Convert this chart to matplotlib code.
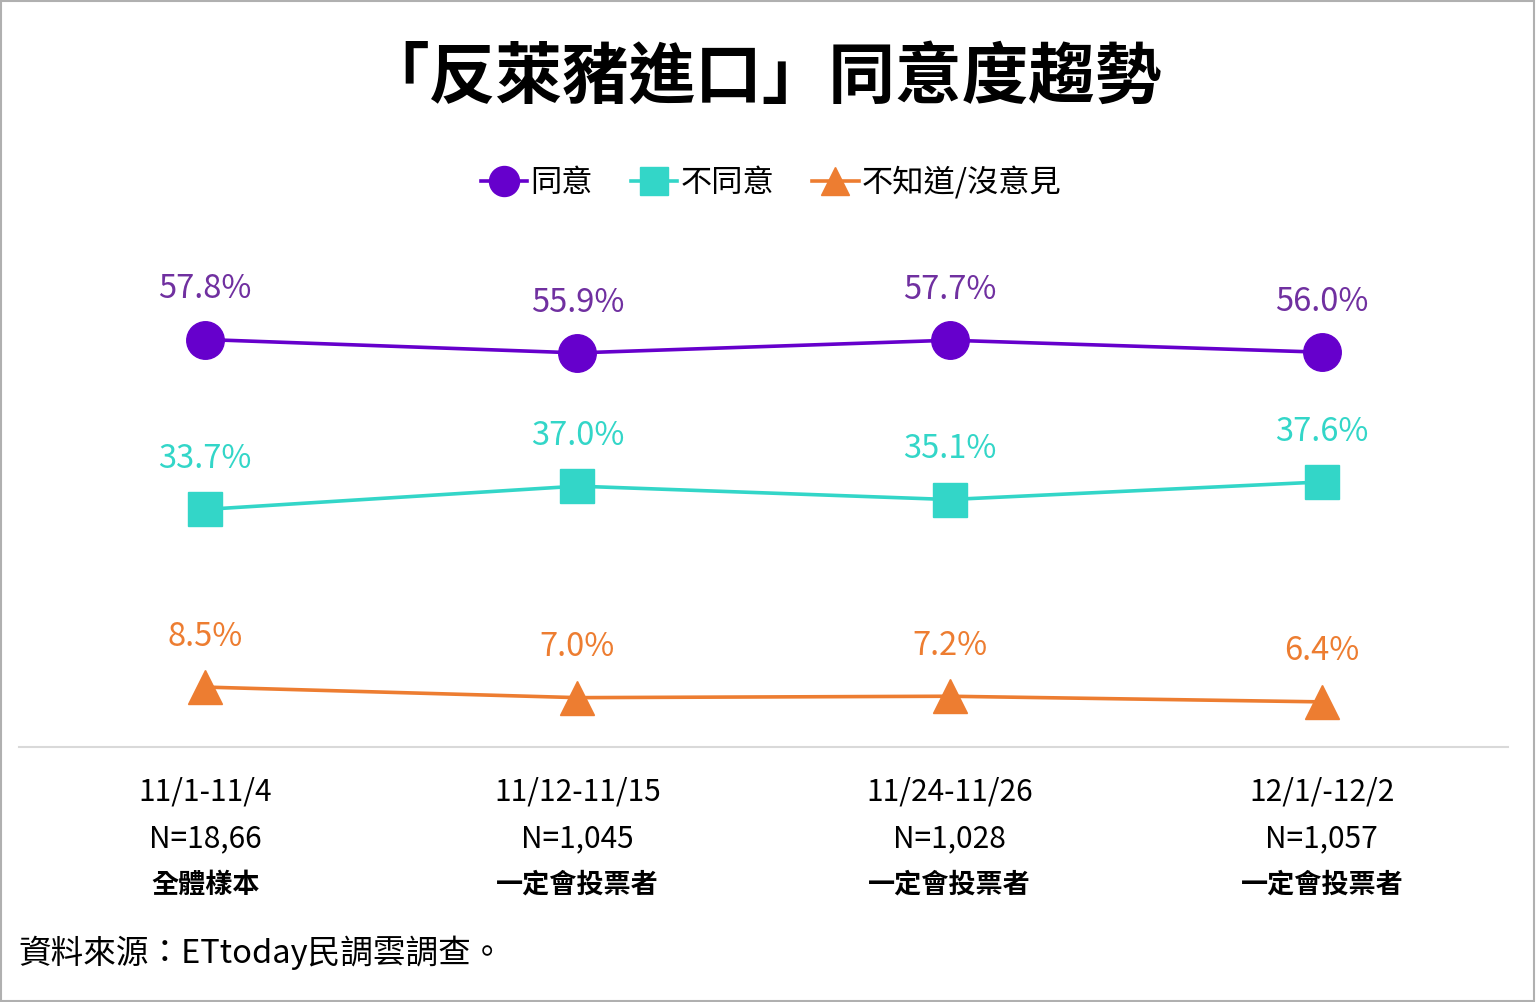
import matplotlib
matplotlib.use("Agg")
import matplotlib.pyplot as plt
from matplotlib.patches import Rectangle

plt.rcParams['font.family'] = ['Noto Sans CJK TC', 'DejaVu Sans']

title = "「反萊豬進口」同意度趨勢"
dates = ["11/1-11/4", "11/12-11/15", "11/24-11/26", "12/1/-12/2"]
sizes = ["N=18,66", "N=1,045", "N=1,028", "N=1,057"]
groups = ["全體樣本", "一定會投票者", "一定會投票者", "一定會投票者"]
series_names = ["同意", "不同意", "不知道/沒意見"]
agree = [57.8, 55.9, 57.7, 56.0]
disagree = [33.7, 37.0, 35.1, 37.6]
unknown = [8.5, 7.0, 7.2, 6.4]
source = "資料來源：ETtoday民調雲調查。"

W, H = 1536, 1003
fig = plt.figure(figsize=(W / 100, H / 100), dpi=100)
fig.patch.set_facecolor("white")

left, right = 19, 1508
y0_px = 748
px_per_unit = 7.05
ymax = 70
top_px = y0_px - ymax * px_per_unit
ax = fig.add_axes([left / W, 1 - y0_px / H, (right - left) / W, (y0_px - top_px) / H])
ax.set_xlim(-0.5, 3.5)
ax.set_ylim(0, ymax)
ax.set_facecolor("none")
for s in ["top", "right", "left"]:
    ax.spines[s].set_visible(False)
ax.spines["bottom"].set_color("#d9d9d9")
ax.spines["bottom"].set_linewidth(1.5)
ax.set_yticks([])
ax.set_xticks([])

x = list(range(len(dates)))
styles = [
    (agree, "o", "#6600CC", "#7030A0", 27),
    (disagree, "s", "#33D6C8", "#33D6C8", 25),
    (unknown, "^", "#ED7D31", "#ED7D31", 25),
]
handles = []
for (vals, mk, col, lcol, ms), name in zip(styles, series_names):
    h, = ax.plot(x, vals, color=col, lw=2.6, marker=mk, markersize=ms,
                 markeredgecolor=col, label=name, clip_on=False, zorder=3)
    handles.append(h)
    for xi, v in zip(x, vals):
        ax.annotate(f"{v:.1f}%", (xi, v), xytext=(0, 37), textcoords="offset points",
                    ha="center", va="center", fontsize=23.5, color=lcol)

for xi, d, n, g in zip(x, dates, sizes, groups):
    xf = (left + (xi + 0.5) / 4 * (right - left)) / W
    fig.text(xf, 1 - 792 / H, d, ha="center", va="center", fontsize=21.5, color="black")
    fig.text(xf, 1 - 839 / H, n, ha="center", va="center", fontsize=21.5, color="black")
    fig.text(xf, 1 - 885 / H, g, ha="center", va="center", fontsize=19.5, color="black",
             fontweight="bold")

fig.text(762 / W, 1 - 78 / H, title, ha="center", va="center", fontsize=48,
         fontweight="bold", color="black")

leg = fig.legend(handles=handles, labels=series_names, loc="center",
                 bbox_to_anchor=(771 / W, 1 - 183 / H), ncol=3, frameon=False,
                 fontsize=22.5, markerscale=0.8, handlelength=1.5, handletextpad=0.1,
                 columnspacing=1.2)

fig.text(18 / W, 1 - 953 / H, source, ha="left", va="center", fontsize=23.5, color="black")

fig.add_artist(Rectangle((1 / W, 1 / H), (W - 3) / W, (H - 3) / H, transform=fig.transFigure,
                         fill=False, edgecolor="#b0b0b0", lw=1.5))

fig.savefig("out.png", dpi=100, facecolor="white")
